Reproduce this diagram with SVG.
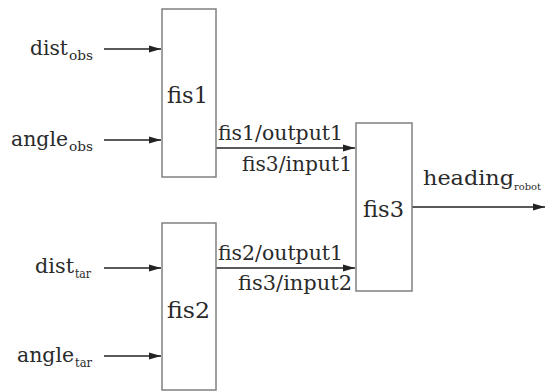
<svg xmlns="http://www.w3.org/2000/svg" width="545" height="392" viewBox="0 0 545 392">
<style>
.box{fill:#fff;stroke:#808080;stroke-width:1.5}
text{font-family:"DejaVu Serif","Liberation Serif",serif;fill:#2a2a2a}
.lbl{font-size:21px}
.nm{font-size:22px}
.edge{font-size:20px}
.sub{font-size:12px}
.sub2{font-size:10px}
.ln{stroke:#222;stroke-width:1.6;fill:none;marker-end:url(#ah)}
</style>
<defs>
<marker id="ah" markerWidth="12" markerHeight="8" refX="12" refY="4" orient="auto" markerUnits="userSpaceOnUse">
<path d="M0,0.5 L12,4 L0,7.5 Z" fill="#222"/>
</marker>
</defs>
<rect width="545" height="392" fill="#fff"/>
<g id="connectors">
<line class="ln" x1="104" y1="49" x2="161" y2="49"/>
<line class="ln" x1="104" y1="140" x2="161" y2="140"/>
<line class="ln" x1="104" y1="268" x2="161" y2="268"/>
<line class="ln" x1="104" y1="356" x2="161" y2="356"/>
<line class="ln" x1="216" y1="148" x2="355" y2="148"/>
<line class="ln" x1="216" y1="268" x2="355" y2="268"/>
<line class="ln" x1="412" y1="207" x2="545" y2="207"/>
</g>
<g id="labels">
<text class="lbl" x="30" y="55" textLength="38" lengthAdjust="spacingAndGlyphs">dist</text>
<text class="sub" x="69" y="60" textLength="24" lengthAdjust="spacingAndGlyphs">obs</text>
<text class="lbl" x="11" y="146" textLength="57" lengthAdjust="spacingAndGlyphs">angle</text>
<text class="sub" x="69" y="151" textLength="24" lengthAdjust="spacingAndGlyphs">obs</text>
<text class="lbl" x="35" y="273" textLength="39" lengthAdjust="spacingAndGlyphs">dist</text>
<text class="sub" x="75" y="278" textLength="16" lengthAdjust="spacingAndGlyphs">tar</text>
<text class="lbl" x="17" y="362" textLength="57" lengthAdjust="spacingAndGlyphs">angle</text>
<text class="sub" x="75" y="367" textLength="17" lengthAdjust="spacingAndGlyphs">tar</text>
<text class="edge" x="218" y="140" textLength="125" lengthAdjust="spacingAndGlyphs">fis1/output1</text>
<text class="edge" x="242" y="171" textLength="110" lengthAdjust="spacingAndGlyphs">fis3/input1</text>
<text class="edge" x="218" y="260" textLength="125" lengthAdjust="spacingAndGlyphs">fis2/output1</text>
<text class="edge" x="238" y="290" textLength="114" lengthAdjust="spacingAndGlyphs">fis3/input2</text>
<text class="edge" x="423" y="185" textLength="91" lengthAdjust="spacingAndGlyphs">heading</text>
<text class="sub2" x="514" y="190" textLength="27" lengthAdjust="spacingAndGlyphs">robot</text>
</g>
<g id="fis1">
<rect class="box" x="162" y="9" width="54" height="168"/>
<text class="nm" x="167" y="103" textLength="41" lengthAdjust="spacingAndGlyphs">fis1</text>
</g>
<g id="fis2">
<rect class="box" x="162" y="223" width="54" height="167"/>
<text class="nm" x="167" y="318" textLength="43" lengthAdjust="spacingAndGlyphs">fis2</text>
</g>
<g id="fis3">
<rect class="box" x="356" y="123" width="56" height="168"/>
<text class="nm" x="363" y="217" textLength="41" lengthAdjust="spacingAndGlyphs">fis3</text>
</g>
</svg>
